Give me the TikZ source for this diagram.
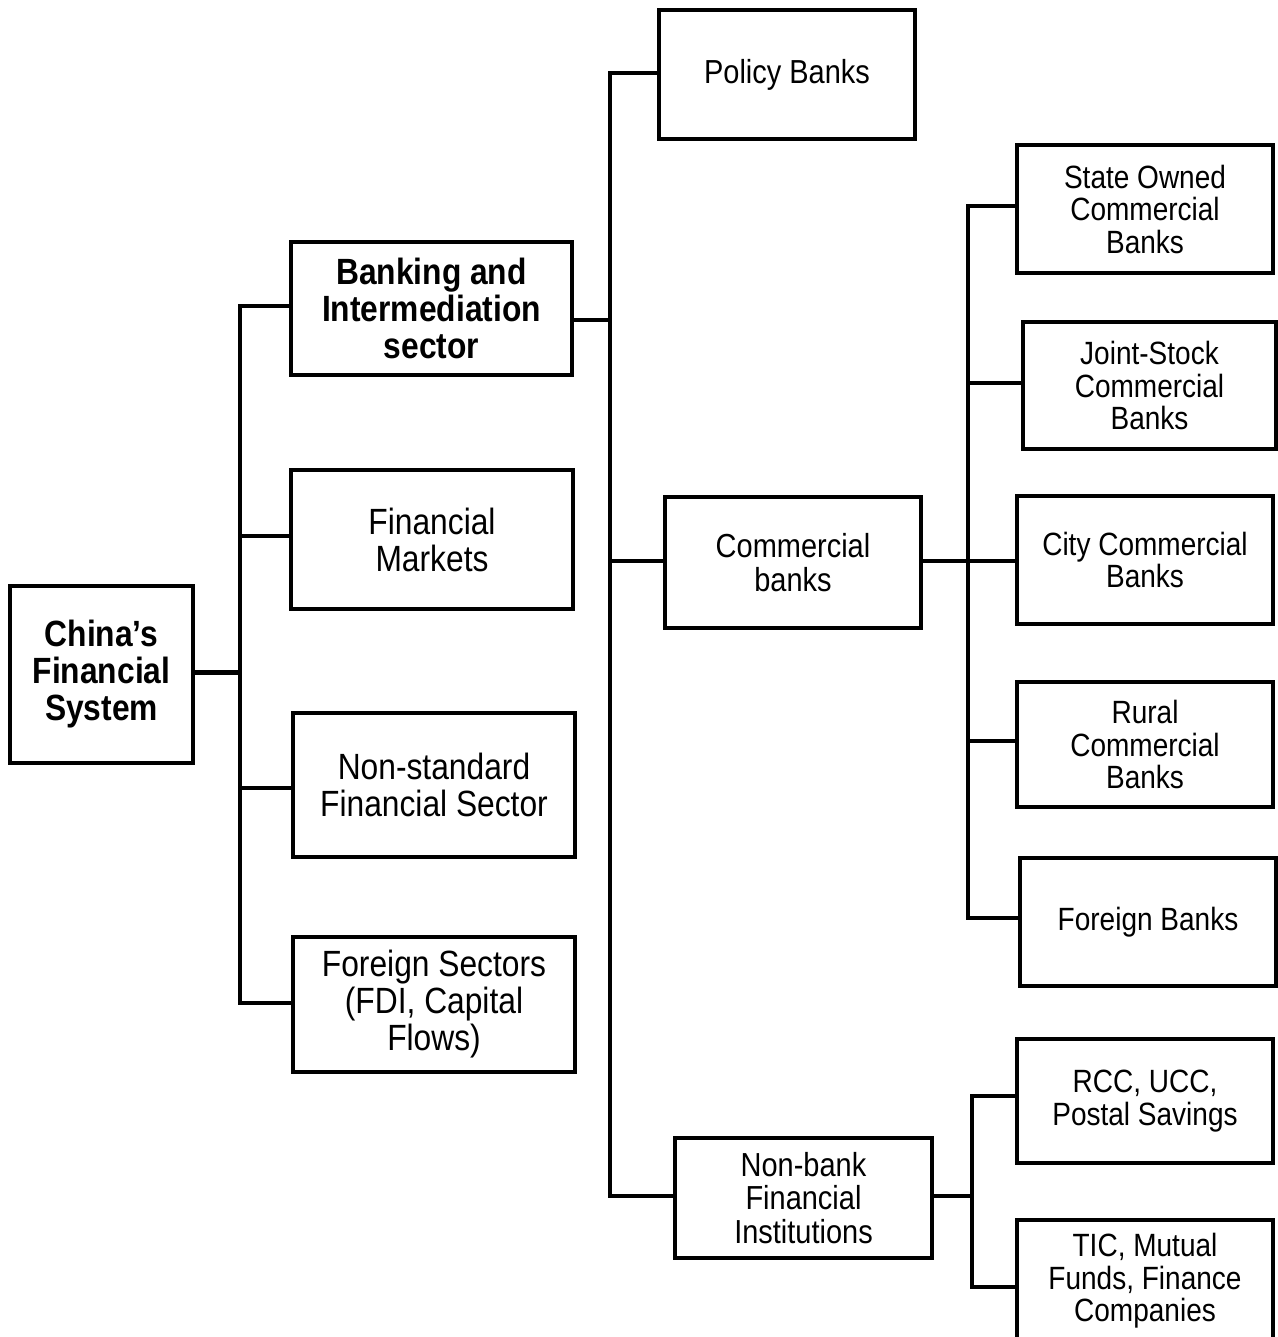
\documentclass[tikz,border=0pt]{standalone}
\usepackage{fontspec}
\setmainfont{Liberation Sans}
\newfontfamily\narrowfam[FakeStretch=0.87]{Liberation Sans}
\newcommand\bigtxt{\narrowfam\fontsize{36.5}{37}\selectfont}
\newcommand\midtxt{\narrowfam\fontsize{33.3}{33.5}\selectfont}
\newcommand\smalltxt{\narrowfam\fontsize{32.2}{32.5}\selectfont}
\begin{document}
\begin{tikzpicture}[x=1pt,y=-1pt,
  box/.style={draw,line width=4.3pt,rectangle,inner sep=0pt,align=center,line join=miter},
  conn/.style={line width=4.3pt,line join=miter}]
\useasboundingbox (0,0) rectangle (1277,1337);
% level 0
\node[box,minimum width=183,minimum height=177,font=\bigtxt\bfseries] (china) at (101.5,674.5) {China’s\\Financial\\System};
% level 1
\node[box,minimum width=281,minimum height=133,font=\bigtxt\bfseries] (bank) at (431.5,308.5) {Banking and\\Intermediation\\sector};
\node[box,minimum width=282,minimum height=139,font=\bigtxt] (fm) at (432,539.5) {Financial\\Markets};
\node[box,minimum width=282,minimum height=144,font=\bigtxt] (ns) at (434,785) {Non-standard\\Financial Sector};
\node[box,minimum width=282,minimum height=135,font=\bigtxt] (fs) at (434,1004.5) {Foreign Sectors\\(FDI, Capital\\Flows)};
% level 2
\node[box,minimum width=256,minimum height=129,font=\midtxt] (policy) at (787,74.5) {Policy Banks};
\node[box,minimum width=256,minimum height=131,font=\midtxt] (comm) at (793,562.5) {Commercial\\banks};
\node[box,minimum width=257,minimum height=120,font=\midtxt] (nonbank) at (803.5,1198) {Non-bank\\Financial\\Institutions};
% level 3
\node[box,minimum width=256,minimum height=128,font=\smalltxt] (so) at (1145,209) {State Owned\\Commercial\\Banks};
\node[box,minimum width=253,minimum height=127,font=\smalltxt] (js) at (1149.5,385.5) {Joint-Stock\\Commercial\\Banks};
\node[box,minimum width=256,minimum height=128,font=\smalltxt] (city) at (1145,560) {City Commercial\\Banks};
\node[box,minimum width=256,minimum height=125,font=\smalltxt] (rural) at (1145,744.5) {Rural\\Commercial\\Banks};
\node[box,minimum width=256,minimum height=128,font=\smalltxt] (fb) at (1148,922) {Foreign Banks};
\node[box,minimum width=256,minimum height=124,font=\smalltxt] (rcc) at (1145,1101) {RCC, UCC,\\Postal Savings};
\node[box,minimum width=256,minimum height=122,font=\smalltxt] (tic) at (1145,1281) {TIC, Mutual\\Funds, Finance\\Companies};
% trunks
\coordinate (t1) at (240,0);
\coordinate (t2) at (610,0);
\coordinate (t3) at (968,0);
\coordinate (t4) at (972,0);
% level 0 -> 1
\draw[conn] ([yshift=2pt]china.east) -- ([yshift=2pt]china.east -| t1);
\draw[conn] ([yshift=2.5pt]bank.west) -- ([yshift=2.5pt]bank.west -| t1) -- ([yshift=1.5pt]fs.west -| t1) -- ([yshift=1.5pt]fs.west);
\draw[conn] ([yshift=3.5pt]fm.west) -- ([yshift=3.5pt]fm.west -| t1);
\draw[conn] ([yshift=-3pt]ns.west) -- ([yshift=-3pt]ns.west -| t1);
% level 1 -> 2
\draw[conn] ([yshift=-11.5pt]bank.east) -- ([yshift=-11.5pt]bank.east -| t2);
\draw[conn] ([yshift=1.5pt]policy.west) -- ([yshift=1.5pt]policy.west -| t2) -- ([yshift=2pt]nonbank.west -| t2) -- ([yshift=2pt]nonbank.west);
\draw[conn] ([yshift=1.5pt]comm.west) -- ([yshift=1.5pt]comm.west -| t2);
% level 2 -> 3
\draw[conn] ([yshift=1.5pt]comm.east) -- ([yshift=1.5pt]comm.east -| city.west);
\draw[conn] ([yshift=3pt]so.west) -- ([yshift=3pt]so.west -| t3) -- ([yshift=4pt]fb.west -| t3) -- ([yshift=4pt]fb.west);
\draw[conn] ([yshift=2.5pt]js.west) -- ([yshift=2.5pt]js.west -| t3);
\draw[conn] ([yshift=3.5pt]rural.west) -- ([yshift=3.5pt]rural.west -| t3);
% level 2 -> 4
\draw[conn] ([yshift=2pt]nonbank.east) -- ([yshift=2pt]nonbank.east -| t4);
\draw[conn] ([yshift=5pt]rcc.west) -- ([yshift=5pt]rcc.west -| t4) -- ([yshift=-6pt]tic.west -| t4) -- ([yshift=-6pt]tic.west);
\end{tikzpicture}
\end{document}
